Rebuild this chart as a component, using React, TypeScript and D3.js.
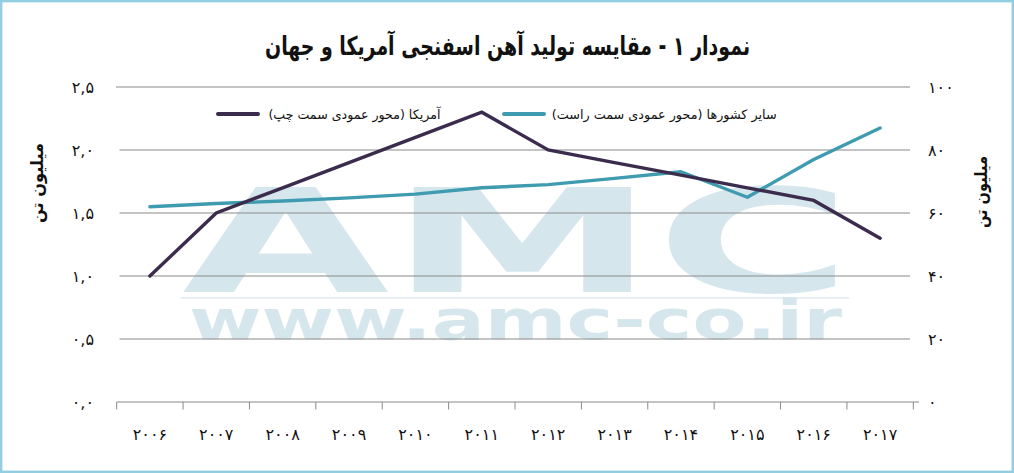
import React from 'react';
import * as d3 from 'd3';

const years = ['۲۰۰۶', '۲۰۰۷', '۲۰۰۸', '۲۰۰۹', '۲۰۱۰', '۲۰۱۱', '۲۰۱۲', '۲۰۱۳', '۲۰۱۴', '۲۰۱۵', '۲۰۱۶', '۲۰۱۷'];
const usValues = [1.0, 1.5, 1.7, 1.9, 2.1, 2.3, 2.0, 1.9, 1.8, 1.7, 1.6, 1.3];
const otherValues = [62, 63, 63.8, 64.8, 66, 68, 69, 71, 73.1, 65, 77, 87];
const leftTicks = [0, 0.5, 1, 1.5, 2, 2.5];
const leftTickLabels = ['۰,۰', '۰,۵', '۱,۰', '۱,۵', '۲,۰', '۲,۵'];
const rightTicks = [0, 20, 40, 60, 80, 100];
const rightTickLabels = ['۰', '۲۰', '۴۰', '۶۰', '۸۰', '۱۰۰'];
const title = 'نمودار ۱ - مقایسه تولید آهن اسفنجی آمریکا و جهان';
const axisTitle = 'میلیون تن';
const legendUS = 'آمریکا (محور عمودی سمت چپ)';
const legendOther = 'سایر کشورها (محور عمودی سمت راست)';

const W = 1014;
const H = 473;
const FA = '"DejaVu Sans", sans-serif';
const US_COLOR = '#3b2c4e';
const OTHER_COLOR = '#3f9bb0';
const WM = '#d5e6ec';

export default function App() {
  const x = d3.scaleBand<string>().domain(years).range([116.7, 913.3]);
  const yL = d3.scaleLinear().domain([0, 2.5]).range([402, 87]);
  const yR = d3.scaleLinear().domain([0, 100]).range([402, 87]);
  const cx = (i: number) => (x(years[i]) as number) + x.bandwidth() / 2;

  const lineUS = d3.line<number>().x((_, i) => cx(i)).y((d) => yL(d));
  const lineOther = d3.line<number>().x((_, i) => cx(i)).y((d) => yR(d));

  const boundaries = [...years.map((y) => x(y) as number), 913.3];

  return (
    <svg width={W} height={H} style={{ position: 'absolute', left: 0, top: 0 }}>
      <rect x={1.2} y={1.2} width={W - 2.4} height={H - 2.4} fill="#fff" stroke="#92cde0" strokeWidth={2.4} />

      {/* watermark */}
      <text x={182} y={292} fontFamily='"DejaVu Sans", sans-serif' fontWeight="bold" fontSize={144}
        fill={WM} textLength={670} lengthAdjust="spacingAndGlyphs">AMC</text>
      <rect x={181} y={297} width={668} height={2} fill="#e6f0f4" />
      <text x={189} y={338.5} fontFamily='"DejaVu Sans", sans-serif' fontWeight="bold" fontSize={55}
        fill={WM} textLength={653} lengthAdjust="spacingAndGlyphs">www.amc-co.ir</text>

      {/* title */}
      <text x={507.5} y={55} textAnchor="middle" direction="rtl" fontFamily={FA} fontWeight="bold"
        fontSize={26} fill="#111" textLength={485} lengthAdjust="spacingAndGlyphs">{title}</text>

      {/* gridlines */}
      {leftTicks.filter((t) => t > 0).map((t) => (
        <line key={t} x1={t === 2.5 ? 116 : 119.5} x2={910} y1={yL(t)} y2={yL(t)} stroke="#8a8a8a" strokeWidth={1.2} />
      ))}
      {/* baseline and ticks */}
      <line x1={116.7} x2={919} y1={402} y2={402} stroke="#8a8a8a" strokeWidth={1.2} />
      {boundaries.map((b, i) => (
        <line key={i} x1={b} x2={b} y1={402} y2={409.5} stroke="#8a8a8a" strokeWidth={1} />
      ))}

      {/* left tick labels */}
      {leftTicks.map((t, i) => (
        <text key={t} x={94} y={yL(t)} dy="0.35em" textAnchor="end" fontFamily={FA} fontSize={16} fill="#111">
          {leftTickLabels[i]}
        </text>
      ))}
      {/* right tick labels */}
      {rightTicks.map((t, i) => (
        <text key={t} x={928} y={yR(t)} dy="0.35em" textAnchor="start" fontFamily={FA} fontSize={16} fill="#111">
          {rightTickLabels[i]}
        </text>
      ))}
      {/* year labels */}
      {years.map((yv, i) => (
        <text key={yv} x={cx(i)} y={434} dy="0.35em" textAnchor="middle" fontFamily={FA} fontSize={16} fill="#111">
          {yv}
        </text>
      ))}

      {/* axis titles */}
      <text transform="translate(37.5,183) rotate(-90)" textAnchor="middle" direction="rtl" dy="0.35em"
        fontFamily={FA} fontWeight="bold" fontSize={17} fill="#111" textLength={80} lengthAdjust="spacingAndGlyphs">{axisTitle}</text>
      <text transform="translate(981,192) rotate(-90)" textAnchor="middle" direction="rtl" dy="0.35em"
        fontFamily={FA} fontWeight="bold" fontSize={17} fill="#111" textLength={72} lengthAdjust="spacingAndGlyphs">{axisTitle}</text>

      {/* lines */}
      <path d={lineOther(otherValues) || ''} fill="none" stroke={OTHER_COLOR} strokeWidth={3.4} strokeLinejoin="round" strokeLinecap="round" />
      <path d={lineUS(usValues) || ''} fill="none" stroke={US_COLOR} strokeWidth={3.4} strokeLinejoin="miter" strokeLinecap="round" />

      {/* legend */}
      <line x1={218} x2={258} y1={114} y2={114} stroke={US_COLOR} strokeWidth={4} strokeLinecap="round" />
      <text x={354.4} y={114} dy="0.35em" textAnchor="middle" direction="rtl" fontFamily={FA} fontSize={13}
        fill="#111" textLength={172} lengthAdjust="spacingAndGlyphs">{legendUS}</text>
      <line x1={504} x2={544} y1={114} y2={114} stroke={OTHER_COLOR} strokeWidth={4} strokeLinecap="round" />
      <text x={664.2} y={114} dy="0.35em" textAnchor="middle" direction="rtl" fontFamily={FA} fontSize={13}
        fill="#111" textLength={225} lengthAdjust="spacingAndGlyphs">{legendOther}</text>
    </svg>
  );
}
